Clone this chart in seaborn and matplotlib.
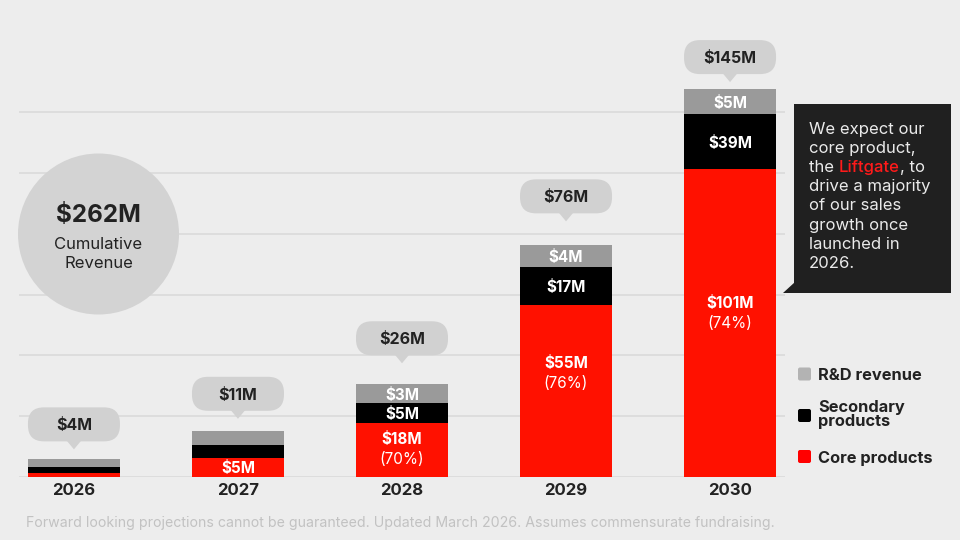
import matplotlib
matplotlib.use("Agg")
import matplotlib.pyplot as plt
import pandas as pd
import seaborn as sns
from matplotlib.patches import FancyBboxPatch, Polygon, Circle, Rectangle
from matplotlib.transforms import Affine2D

# --- data ---
years = ["2026", "2027", "2028", "2029", "2030"]
# segment heights as drawn on the slide (gridlines every 20)
core_drawn = [1.4, 6.3, 17.8, 56.5, 101.3]
secondary_drawn = [1.8, 4.2, 6.6, 12.6, 18.1]
rd_drawn = [2.6, 4.7, 6.1, 7.1, 8.2]
# printed labels
total_labels = ["$4M", "$11M", "$26M", "$76M", "$145M"]
core_labels = ["", "$5M", "$18M", "$55M", "$101M"]
core_share = ["", "", "(70%)", "(76%)", "(74%)"]
secondary_labels = ["", "", "$5M", "$17M", "$39M"]
rd_labels = ["", "", "$3M", "$4M", "$5M"]
cumulative = "$262M"
legend_items = ["R&D revenue", "Secondary\nproducts", "Core products"]
note_lines = ["We expect our", "core product,", "the Liftgate, to", "drive a majority",
              "of our sales", "growth once", "launched in", "2026."]
footer = ("Forward looking projections cannot be guaranteed. Updated March 2026. "
          "Assumes commensurate fundraising.")

RED = "#FF1100"
BLACK = "#000000"
GRAY = "#9A9A9A"
BG = "#EDEDED"
DARK = "#222222"
BUBBLE = "#D1D1D1"

# layout tweaks (pixels)
bubble_gap = [10, 12, 21, 24, 7]
core_label_shift = [0, 0, -1.5, -19, -11]

sns.set_theme(style="white")
plt.rcParams["font.family"] = ["Inter", "DejaVu Sans"]

fig = plt.figure(figsize=(9.6, 5.4), dpi=100, facecolor=BG)
W, H = 960, 540
PX = Affine2D().scale(1 / W, -1 / H).translate(0, 1) + fig.transFigure

scale = 3.04  # px per unit
ymax = 150
ax = fig.add_axes([19 / W, (H - 477) / H, (785 - 19) / W, ymax * scale / H])
ax.set_facecolor(BG)

df = pd.DataFrame({"year": years, "core": core_drawn,
                   "secondary": secondary_drawn, "rd": rd_drawn})
df["core_sec"] = df["core"] + df["secondary"]
df["total"] = df["core_sec"] + df["rd"]

# stacked look: draw the totals first, then overlay the lower layers
for col, color in [("total", GRAY), ("core_sec", BLACK), ("core", RED)]:
    sns.barplot(data=df, x="year", y=col, color=color, saturation=1, width=0.56,
                errorbar=None, linewidth=0, ax=ax, zorder=2)

ax.set_xlim(-0.335, 4.335)
ax.set_ylim(0, ymax)
ax.set_yticks(range(0, 121, 20))
ax.yaxis.grid(True, color="#DCDCDC", linewidth=1.3)
ax.xaxis.grid(False)
ax.set_axisbelow(True)
ax.tick_params(axis="y", left=False, labelleft=False)
ax.tick_params(axis="x", bottom=False, pad=-2)
ax.set_xticks(range(len(years)))
ax.set_xticklabels(years, fontsize=12, fontweight="bold", color=DARK)
ax.set_xlabel("")
ax.set_ylabel("")
sns.despine(ax=ax, left=True, bottom=True)


def to_px(x, y):
    dx, dy = ax.transData.transform((x, y))
    return dx, H - dy


LBL = 11
# labels inside the bars
for i in range(len(years)):
    c, s, r = core_drawn[i], secondary_drawn[i], rd_drawn[i]
    if core_labels[i]:
        cx, cy = to_px(i, c / 2)
        cy += core_label_shift[i]
        if core_share[i]:
            ax.text(cx, cy - 10, core_labels[i], transform=PX, ha="center", va="center_baseline",
                    color="white", fontsize=LBL, fontweight="bold", zorder=5)
            ax.text(cx, cy + 10, core_share[i], transform=PX, ha="center", va="center_baseline",
                    color="white", fontsize=LBL, fontweight="normal", zorder=5)
        else:
            ax.text(cx, cy, core_labels[i], transform=PX, ha="center", va="center_baseline",
                    color="white", fontsize=LBL, fontweight="bold", zorder=5)
    if secondary_labels[i]:
        cx, cy = to_px(i, c + s / 2)
        ax.text(cx, cy, secondary_labels[i], transform=PX, ha="center", va="center_baseline",
                color="white", fontsize=LBL, fontweight="bold", zorder=5)
    if rd_labels[i]:
        cx, cy = to_px(i, c + s + r / 2)
        ax.text(cx, cy, rd_labels[i], transform=PX, ha="center", va="center_baseline",
                color="white", fontsize=LBL, fontweight="bold", zorder=5)

    # total bubble above the bar
    tx, ty = to_px(i, c + s + r)
    tip = ty - bubble_gap[i]
    bottom = tip - 8
    bw, bh = 92, 34
    ax.add_patch(FancyBboxPatch((tx - bw / 2, bottom - bh), bw, bh,
                                boxstyle="round,pad=0,rounding_size=16",
                                transform=PX, facecolor=BUBBLE, edgecolor="none",
                                clip_on=False, zorder=4))
    ax.add_patch(Polygon([(tx - 7.5, bottom - 1), (tx + 7.5, bottom - 1), (tx, tip)],
                         closed=True, transform=PX, facecolor=BUBBLE, edgecolor="none",
                         clip_on=False, zorder=4))
    ax.text(tx, bottom - bh / 2, total_labels[i], transform=PX, ha="center",
            va="center_baseline", color=DARK, fontsize=11.5, fontweight="bold", zorder=5)

# cumulative revenue circle
ax.add_patch(Circle((98.5, 234), 80.5, transform=PX, facecolor="#D3D3D3",
                    edgecolor="none", clip_on=False, zorder=3))
ax.text(98.5, 213, cumulative, transform=PX, ha="center", va="center_baseline",
        color=DARK, fontsize=17.5, fontweight="bold", zorder=5)
ax.text(98.5, 243, "Cumulative", transform=PX, ha="center", va="center_baseline",
        color=DARK, fontsize=12, zorder=5)
ax.text(98.5, 262, "Revenue", transform=PX, ha="center", va="center_baseline",
        color=DARK, fontsize=12, zorder=5)

# dark note box
ax.add_patch(Rectangle((794.3, 104), 156.7, 189.3, transform=PX, facecolor="#202020",
                       edgecolor="none", clip_on=False, zorder=4))
ax.add_patch(Polygon([(783.3, 293.3), (795, 293.3), (795, 281.5)], closed=True,
                     transform=PX, facecolor="#202020", edgecolor="none",
                     clip_on=False, zorder=4))
NOTE = 12
fig.canvas.draw()
renderer = fig.canvas.get_renderer()
for k, line in enumerate(note_lines):
    y = 128.3 + k * 19.05
    if "Liftgate" in line:
        head, tail = line.split("Liftgate")
        t_full = ax.text(809, y, head + "Liftgate", transform=PX, ha="left",
                         va="center_baseline", color="#EAEAEA", fontsize=NOTE, zorder=5)
        w_full = t_full.get_window_extent(renderer).width
        t_full.set_text(head)
        t_word = ax.text(0, 0, "Liftgate", fontsize=NOTE, fontweight="medium")
        w_word = t_word.get_window_extent(renderer).width
        t_word.remove()
        t_plain = ax.text(0, 0, "Liftgate", fontsize=NOTE)
        w_plain = t_plain.get_window_extent(renderer).width
        t_plain.remove()
        ax.text(809 + w_full - w_plain, y, "Liftgate", transform=PX, ha="left",
                va="center_baseline", color="#FF1A1A", fontsize=NOTE,
                fontweight="medium", zorder=5)
        ax.text(809 + w_full - w_plain + w_word, y, tail, transform=PX, ha="left",
                va="center_baseline", color="#EAEAEA", fontsize=NOTE, zorder=5)
    else:
        ax.text(809, y, line, transform=PX, ha="left", va="center_baseline",
                color="#EAEAEA", fontsize=NOTE, zorder=5)

# legend
leg_colors = ["#B3B3B3", BLACK, "#FF0000"]
leg_y = [374, 415.5, 456.5]
for col, yc, name in zip(leg_colors, leg_y, legend_items):
    ax.add_patch(FancyBboxPatch((798, yc - 6.5), 13, 13, boxstyle="round,pad=0,rounding_size=2",
                                transform=PX, facecolor=col, edgecolor="none",
                                clip_on=False, zorder=4))
    ax.text(818, yc - 1 if "\n" in name else yc, name, transform=PX, ha="left",
            va="center" if "\n" in name else "center_baseline", linespacing=0.88,
            color=DARK, fontsize=11.8, fontweight="bold", zorder=5)

# footer note
fig.text(26 / W, 1 - 521 / H, footer, ha="left", va="center_baseline",
         color="#C2C2C2", fontsize=10.2)

fig.savefig("out.png", dpi=100, facecolor=BG)
